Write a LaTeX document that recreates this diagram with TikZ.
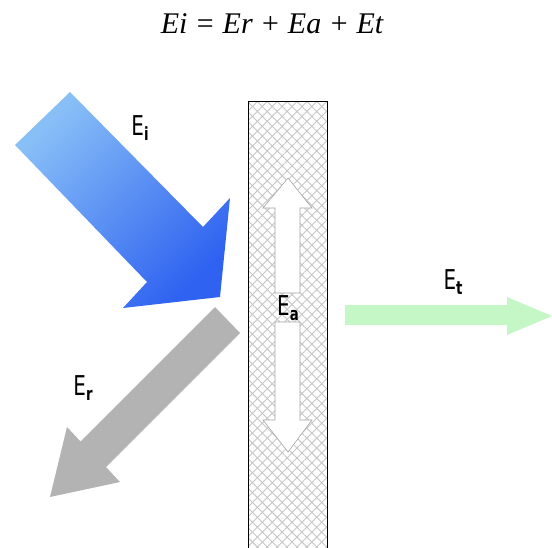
\documentclass[tikz,border=0pt]{standalone}
\usepackage{fontspec}
\newfontfamily\lblfont{DejaVu Sans}
\newfontfamily\eqfont{Liberation Serif}
\usepackage{tikz}
\usetikzlibrary{patterns.meta}
\definecolor{inlight}{HTML}{88BFF7}
\definecolor{indark}{HTML}{2F62F0}
\definecolor{refl}{HTML}{A4A4A4}
\definecolor{trans}{HTML}{C4F6C6}

\newcommand{\elabel}[1]{\scalebox{0.95}[1.3]{\lblfont E\raisebox{-0.3ex}{\fontsize{14}{14}\selectfont\bfseries #1}}}

\begin{document}
\begin{tikzpicture}[x=1pt, y=-1pt,
    lbl/.style={font=\fontsize{21}{24}\selectfont, inner sep=0pt},
    hatch/.style={pattern={Lines[angle=45,distance=7pt,line width=0.9pt]}, pattern color=gray!45},
    hatchb/.style={pattern={Lines[angle=-45,distance=7pt,line width=0.9pt]}, pattern color=gray!45},
    absarrow/.style={fill=white, draw=gray!70, line width=0.6pt, line join=miter}
  ]
    \useasboundingbox (0,0) rectangle (552,547);

    % equation
    \node[font=\eqfont\fontsize{30}{34}\selectfont\itshape, anchor=base] (eq) at (272,33)
      {Ei = Er + Ea + Et};

    % wall
    \begin{scope}
      \clip (0,0) rectangle (552,547);
      \fill[white] (248,101) rectangle (327,560);
      \fill[hatch] (248,101) rectangle (327,560);
      \fill[hatchb] (248,101) rectangle (327,560);
      \draw[line width=0.9pt] (248,560) -- (248,101) -- (327,101) -- (327,560);
    \end{scope}

    % incident
    \shade[top color=inlight, bottom color=indark, shading angle=45]
      (15,145) -- (70,92) -- (203,227) -- (230,198) -- (220,297)
      -- (123,308) -- (147,282) -- cycle;
    \node[lbl] (Ei) at (140,128) {\elabel{i}};

    % reflected
    \shade[top color=refl!85, bottom color=refl!110!black, shading angle=45]
      (215,307) -- (240,333) -- (106,467) -- (120,482) -- (50,497)
      -- (67,427) -- (80.5,441.5) -- cycle;
    \node[lbl] (Er) at (83,388) {\elabel{r}};

    % absorbed
    \draw[absarrow] (288,178) -- (312,208) -- (300,208) -- (300,293)
      -- (275,293) -- (275,208) -- (263,208) -- cycle;
    \draw[absarrow] (288,452) -- (312,420) -- (300,420) -- (300,322)
      -- (275,322) -- (275,420) -- (263,420) -- cycle;
    \node[lbl] (Ea) at (288,308) {\elabel{a}};

    % transmitted
    \fill[trans] (345,305) -- (507,305) -- (507,297) -- (552,316)
      -- (507,335) -- (507,325) -- (345,325) -- cycle;
    \node[lbl] (Et) at (453,282) {\elabel{t}};
  \end{tikzpicture}
\end{document}
